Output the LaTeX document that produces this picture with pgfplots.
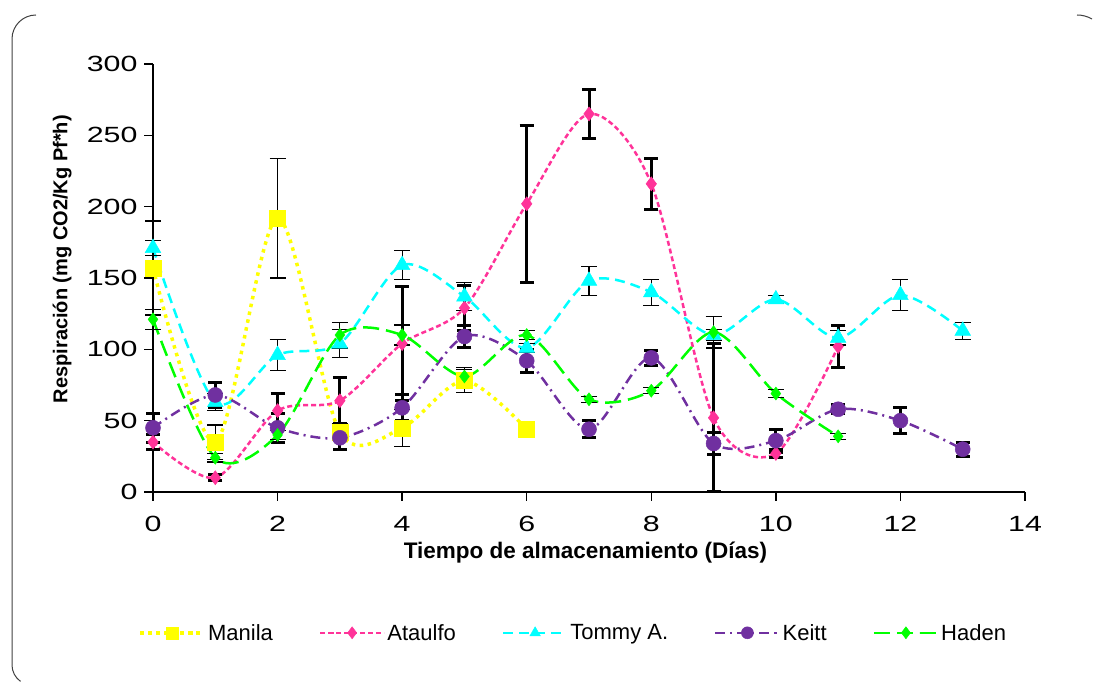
\documentclass[border=0pt]{standalone}
\usepackage{fontspec}
\setmainfont{Liberation Sans}
\newfontfamily\tickfont[FakeStretch=1.38]{Liberation Sans}
\usepackage{pgfplots}
\pgfplotsset{compat=1.18}
\definecolor{cManila}{HTML}{FFFF00}
\definecolor{cAtaulfo}{HTML}{FF3399}
\definecolor{cTommy}{HTML}{00FFFF}
\definecolor{cKeitt}{HTML}{7030A0}
\definecolor{cHaden}{HTML}{00FF00}
\pgfplotsset{
  ebthin/.style={
    /pgfplots/error bars/y dir=both,
    /pgfplots/error bars/y explicit,
    /pgfplots/error bars/error bar style={solid, black, line width=1.2pt},
    /pgfplots/error bars/error mark options={solid, black, line width=1.2pt, rotate=90, mark size=8pt}},
  ebthick/.style={
    /pgfplots/error bars/y dir=both,
    /pgfplots/error bars/y explicit,
    /pgfplots/error bars/error bar style={solid, black, line width=3pt},
    /pgfplots/error bars/error mark options={solid, black, line width=3pt, rotate=90, mark size=7pt}},
}
\begin{document}
\begin{tikzpicture}
\useasboundingbox (0pt,0pt) rectangle (1094pt,684pt);
\draw[black!75, line width=1pt] (36pt,669pt) arc[start angle=90,end angle=180,radius=24pt] -- (12pt,19pt) arc[start angle=180,end angle=235,radius=20pt];
\draw[black!75, line width=1pt] (1077pt,669pt) arc[start angle=90,end angle=60,radius=30pt];
\begin{axis}[
  at={(153pt,192pt)}, anchor=south west,
  scale only axis, width=872pt, height=428pt,
  xmin=0, xmax=14, ymin=0, ymax=300,
  xtick={0,2,...,14}, ytick={0,50,...,300},
  axis lines*=left,
  axis line style={line width=2pt, black},
  tick style={line width=1.5pt, black},
  tick align=outside, major tick length=9pt,
  clip=false,
  /pgf/number format/assume math mode=true,
  ticklabel style={font=\tickfont\fontsize{22}{26}\selectfont},
  xticklabel style={yshift=-12pt},
  yticklabel style={xshift=-3pt},
  xlabel={Tiempo de almacenamiento (Días)},
  ylabel={Respiración (mg CO2/Kg Pf*h)},
  xlabel style={font=\bfseries\fontsize{22.5}{26}\selectfont, at={(axis description cs:0.496,-0.1425)}, anchor=center},
  ylabel style={font=\bfseries\fontsize{20}{24}\selectfont, at={(axis description cs:-0.1043,0.544)}, anchor=center, rotate=0},
  legend columns=5,
  legend style={at={(0.482,-0.329)}, anchor=center, draw=none, fill=none,
    font=\fontsize{22}{26}\selectfont,
    /tikz/every even column/.append style={column sep=44pt}},
  legend image code/.code={\draw[mark repeat=2,mark phase=2,mark size=6pt] plot coordinates {(0pt,0pt)(32pt,0pt)(64pt,0pt)};},
]
\addplot[cManila, line width=3.5pt, dash pattern=on 3.5pt off 4.5pt, smooth,
  mark=square*, mark size=8pt, mark options={solid, fill=cManila, draw=cManila, line width=0.5pt}, ebthin]
  coordinates {(0,157) +- (0,33) (1,35) +- (0,12) (2,192) +- (0,42) (3,42) +- (0,6) (4,45) +- (0,13) (5,78) +- (0,8) (6,44) +- (0,5)};
\addlegendentry{Manila}
\addplot[cAtaulfo, line width=2.5pt, dash pattern=on 5pt off 3pt, smooth,
  mark=diamond*, mark size=7pt, mark options={solid, fill=cAtaulfo, draw=cAtaulfo, line width=0.5pt}, ebthick]
  coordinates {(0,35) +- (0,5) (1,10) +- (0,2) (2,57) +- (0,12) (3,64) +- (0,16) (4,104) +- (0,40) (5,129) +- (0,16) (6,202) +- (0,55) (7,265) +- (0,17) (8,216) +- (0,18) (9,52) +- (0,52) (10,27) +- (0,3) (11,102) +- (0,15)};
\addlegendentry{Ataulfo}
\addplot[cTommy, line width=2.5pt, dash pattern=on 10pt off 6pt, smooth,
  mark=triangle*, mark size=9pt, mark options={solid, fill=cTommy, draw=cTommy, line width=0.5pt}, ebthin]
  coordinates {(0,171) +- (0,5) (1,63) +- (0,6) (2,96) +- (0,11) (3,104) +- (0,10) (4,159) +- (0,10) (5,137) +- (0,10) (6,101) +- (0,3) (7,148) +- (0,10) (8,140) +- (0,9) (9,110) +- (0,4) (10,135) +- (0,3) (11,108) +- (0,5) (12,138) +- (0,11) (13,113) +- (0,6)};
\addlegendentry{Tommy A.}
\addplot[cKeitt, line width=2.5pt, dash pattern=on 10pt off 5pt on 2pt off 5pt, smooth,
  mark=*, mark size=7.5pt, mark options={solid, fill=cKeitt, draw=cKeitt, line width=0.5pt}, ebthick]
  coordinates {(0,45) +- (0,10) (1,68) +- (0,9) (2,45) +- (0,10) (3,38) +- (0,8) (4,59) +- (0,9) (5,109) +- (0,8) (6,92) +- (0,8) (7,44) +- (0,6) (8,94) +- (0,5) (9,34) +- (0,8) (10,36) +- (0,8) (11,58) +- (0,3) (12,50) +- (0,9) (13,30) +- (0,5)};
\addlegendentry{Keitt}
\addplot[cHaden, line width=2.5pt, dash pattern=on 16pt off 7pt, smooth,
  mark=diamond*, mark size=6.5pt, mark options={solid, fill=cHaden, draw=cHaden, line width=0.5pt}, ebthin]
  coordinates {(0,121) +- (0,7) (1,24) +- (0,3) (2,40) +- (0,3) (3,110) +- (0,9) (4,110) +- (0,7) (5,81) +- (0,6) (6,110) +- (0,3) (7,65) +- (0,2) (8,71) +- (0,2) (9,112) +- (0,11) (10,69) +- (0,3) (11,39) +- (0,2)};
\addlegendentry{Haden}
\end{axis}
\end{tikzpicture}
\end{document}
